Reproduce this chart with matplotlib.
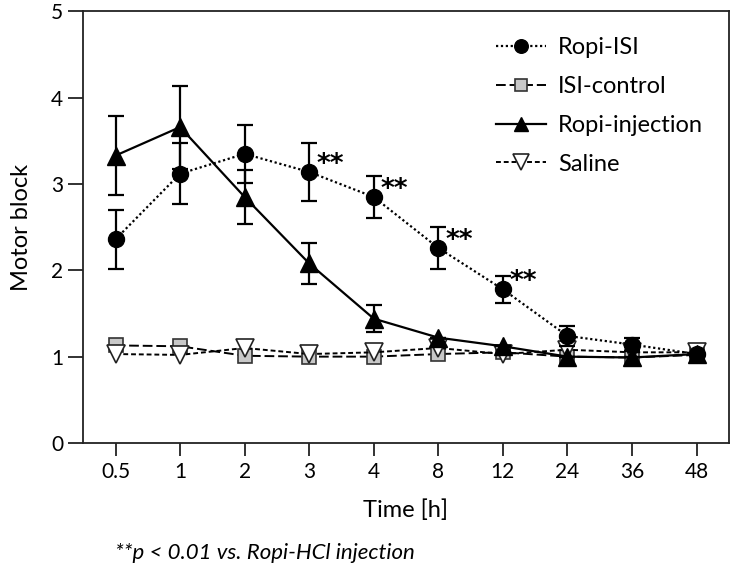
import numpy as np
import matplotlib
matplotlib.use("Agg")
import matplotlib.pyplot as plt

plt.rcParams['font.family'] = ['Lato', 'DejaVu Sans']

time_labels = ["0.5", "1", "2", "3", "4", "8", "12", "24", "36", "48"]

ropi_isi = [2.36, 3.12, 3.35, 3.14, 2.85, 2.26, 1.78, 1.24, 1.14, 1.03]
ropi_isi_err = [0.34, 0.35, 0.34, 0.34, 0.245, 0.24, 0.16, 0.12, 0.08, 0.0]

isi_control = [1.13, 1.12, 1.01, 1.0, 1.0, 1.03, 1.05, 1.0, 0.99, 1.02]

ropi_inj = [3.33, 3.66, 2.85, 2.08, 1.44, 1.22, 1.12, 1.0, 0.99, 1.03]
ropi_inj_err = [0.46, 0.48, 0.31, 0.24, 0.16, 0.0, 0.0, 0.0, 0.0, 0.0]

saline = [1.03, 1.02, 1.10, 1.03, 1.05, 1.10, 1.03, 1.08, 1.05, 1.05]

signif = [3, 4, 5, 6]  # indices marked with **

x = np.arange(len(time_labels))

fig = plt.figure(figsize=(7.31, 5.73), dpi=100)
ax = fig.add_axes([0.113, 0.227, 0.884, 0.753])

ms = 11.5
h1 = ax.errorbar(x, ropi_isi, yerr=ropi_isi_err, color='black', ls=(0, (1, 1.2)), lw=1.6,
                 marker='o', ms=ms, mfc='black', mec='black', capsize=6, capthick=1.6,
                 elinewidth=1.6, zorder=4)
h2, = ax.plot(x, isi_control, color='black', ls=(0, (5, 2)), lw=1.4, marker='s', ms=ms - 1,
              mfc='#c8c8c8', mec='#333333', mew=1.2, zorder=3)
h3 = ax.errorbar(x, ropi_inj, yerr=ropi_inj_err, color='black', ls='-', lw=1.6,
                 marker='^', ms=ms + 1, mfc='black', mec='black', capsize=6, capthick=1.6,
                 elinewidth=1.6, zorder=3.5)
h4, = ax.plot(x, saline, color='black', ls=(0, (2.5, 1.5)), lw=1.4, marker='v', ms=ms + 2,
              mfc='white', mec='#222222', mew=1.2, zorder=3.2)

for i in signif:
    ax.annotate("**", (x[i], ropi_isi[i]), xytext=(5, 5), textcoords='offset points',
                fontsize=19, fontweight='bold', ha='left', va='center',
                family='DejaVu Sans')

ax.set_xlim(-0.51, 9.5)
ax.set_ylim(0, 5)
ax.set_xticks(x)
ax.set_xticklabels(time_labels)
ax.set_yticks(range(6))
ax.tick_params(axis='both', labelsize=15, width=1.3, color='#222222')
ax.tick_params(axis='y', length=11, pad=3)
ax.tick_params(axis='x', length=9, pad=5)
for s in ax.spines.values():
    s.set_linewidth(1.3)
    s.set_color('#222222')

ax.set_xlabel("Time [h]", fontsize=17, labelpad=12)
ax.set_ylabel("Motor block", fontsize=17, labelpad=14)

ax.legend([h1[0], h2, h3[0], h4], ['Ropi-ISI', 'ISI-control', 'Ropi-injection', 'Saline'],
          loc='upper right', frameon=False, fontsize=17, handlelength=2.1,
          labelspacing=0.75, borderaxespad=0.7, handletextpad=0.5, markerscale=0.85)

fig.text(0.157, 0.035, "**p < 0.01 vs. Ropi-HCl injection", fontsize=16,
         style='italic', ha='left', va='center')

fig.savefig("out.png", dpi=100)
